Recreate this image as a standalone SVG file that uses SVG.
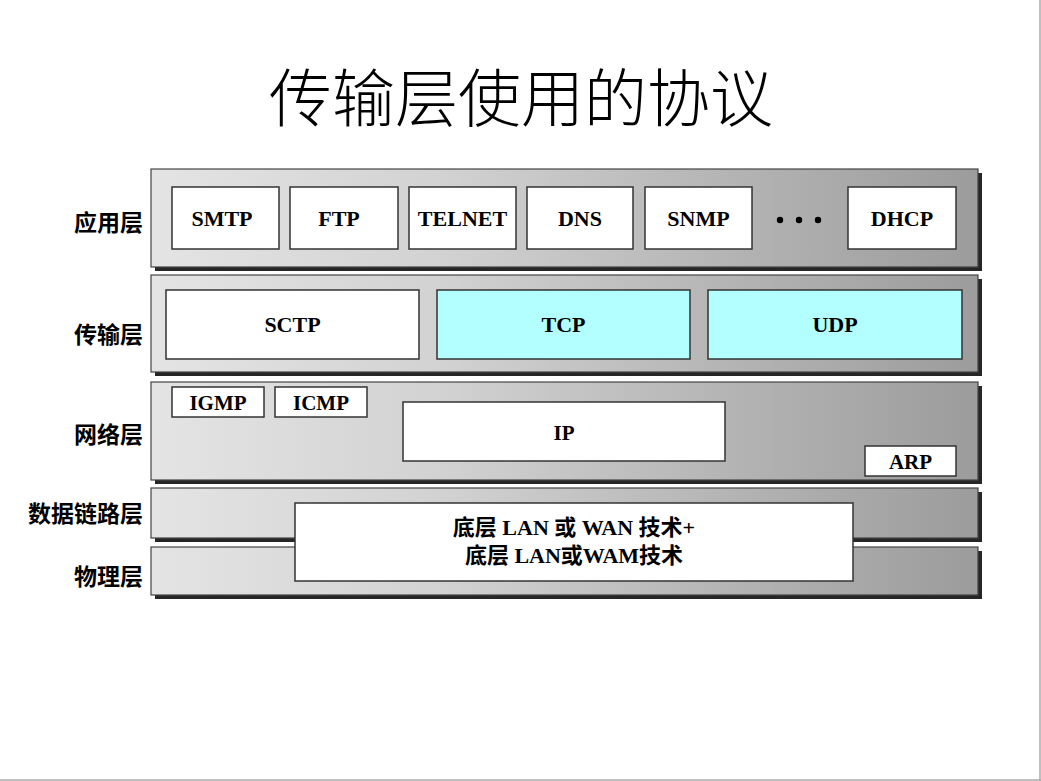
<svg xmlns="http://www.w3.org/2000/svg" width="1041" height="781" viewBox="0 0 1041 781">
<defs>
<linearGradient id="g" x1="151" y1="0" x2="978" y2="0" gradientUnits="userSpaceOnUse">
<stop offset="0" stop-color="#e4e4e4"/>
<stop offset="0.35" stop-color="#d2d2d2"/>
<stop offset="0.7" stop-color="#b4b4b4"/>
<stop offset="1" stop-color="#9c9c9c"/>
</linearGradient>
<style>
.band{fill:url(#g);stroke:#444;stroke-width:1.2}
.sh{fill:#262626}
.box{fill:#fff;stroke:#333;stroke-width:1.5}
.cyan{fill:#b3ffff;stroke:#333;stroke-width:1.5}
.p{font-family:"Liberation Serif","Noto Sans CJK SC",serif;font-weight:bold;font-size:22px;fill:#000;text-anchor:middle}
.ps{font-size:21px}
.lab{font-family:"Noto Sans CJK SC",sans-serif;font-weight:bold;font-size:23px;fill:#000;text-anchor:end}
.title{font-family:"Noto Sans CJK SC",serif;font-weight:300;font-size:63px;fill:#000;text-anchor:middle}
</style>
</defs>
<rect width="1041" height="781" fill="#fff"/>
<line x1="1040" y1="0" x2="1040" y2="781" stroke="#aaa" stroke-width="1.5"/>
<line x1="0" y1="780" x2="1041" y2="780" stroke="#aaa" stroke-width="1.5"/>
<text class="title" x="521" y="121">传输层使用的协议</text>

<g id="labels">
<text class="lab" x="143" y="231">应用层</text>
<text class="lab" x="143" y="343">传输层</text>
<text class="lab" x="143" y="443">网络层</text>
<text class="lab" x="143" y="522">数据链路层</text>
<text class="lab" x="143" y="585">物理层</text>
</g>

<g id="application-layer">
<rect class="sh" x="155" y="173" width="827" height="98"/>
<rect class="band" x="151" y="169" width="827" height="98"/>
</g>
<g id="transport-layer">
<rect class="sh" x="155" y="279" width="827" height="97"/>
<rect class="band" x="151" y="275" width="827" height="97"/>
</g>
<g id="network-layer">
<rect class="sh" x="155" y="386" width="827" height="98"/>
<rect class="band" x="151" y="382" width="827" height="98"/>
</g>
<g id="datalink-layer">
<rect class="sh" x="155" y="492" width="827" height="50"/>
<rect class="band" x="151" y="488" width="827" height="50"/>
</g>
<g id="physical-layer">
<rect class="sh" x="155" y="551" width="827" height="48"/>
<rect class="band" x="151" y="547" width="827" height="48"/>
</g>

<g id="smtp"><rect class="box" x="172" y="187" width="107" height="62"/><text class="p" x="222" y="226">SMTP</text></g>
<g id="ftp"><rect class="box" x="290" y="187" width="108" height="62"/><text class="p" x="339" y="226">FTP</text></g>
<g id="telnet"><rect class="box" x="409" y="187" width="107" height="62"/><text class="p" x="462.5" y="226">TELNET</text></g>
<g id="dns"><rect class="box" x="527" y="187" width="106" height="62"/><text class="p" x="580" y="226">DNS</text></g>
<g id="snmp"><rect class="box" x="645" y="187" width="107" height="62"/><text class="p" x="698.5" y="226">SNMP</text></g>
<g id="dots"><circle cx="780" cy="220" r="3.2" fill="#000"/><circle cx="799" cy="220" r="3.2" fill="#000"/><circle cx="818" cy="220" r="3.2" fill="#000"/></g>
<g id="dhcp"><rect class="box" x="848" y="187" width="108" height="62"/><text class="p" x="902" y="226">DHCP</text></g>

<g id="sctp"><rect class="box" x="166" y="290" width="253" height="69"/><text class="p" x="292.5" y="332">SCTP</text></g>
<g id="tcp"><rect class="cyan" x="437" y="290" width="253" height="69"/><text class="p" x="563.5" y="332">TCP</text></g>
<g id="udp"><rect class="cyan" x="708" y="290" width="254" height="69"/><text class="p" x="835" y="332">UDP</text></g>

<g id="igmp"><rect class="box" x="172" y="387" width="92" height="30"/><text class="p ps" x="218" y="410">IGMP</text></g>
<g id="icmp"><rect class="box" x="275" y="387" width="92" height="30"/><text class="p ps" x="321" y="410">ICMP</text></g>
<g id="ip"><rect class="box" x="403" y="402" width="322" height="59"/><text class="p ps" x="564" y="440">IP</text></g>
<g id="arp"><rect class="box" x="865" y="446" width="91" height="30"/><text class="p ps" x="910.5" y="469">ARP</text></g>

<g id="lan-wan"><rect class="box" x="295" y="503" width="558" height="78"/>
<text class="p" x="574" y="535">底层 LAN 或 WAN 技术+</text>
<text class="p" x="574" y="563">底层 LAN或WAM技术</text></g>
<g id="connectors"/>
</svg>
